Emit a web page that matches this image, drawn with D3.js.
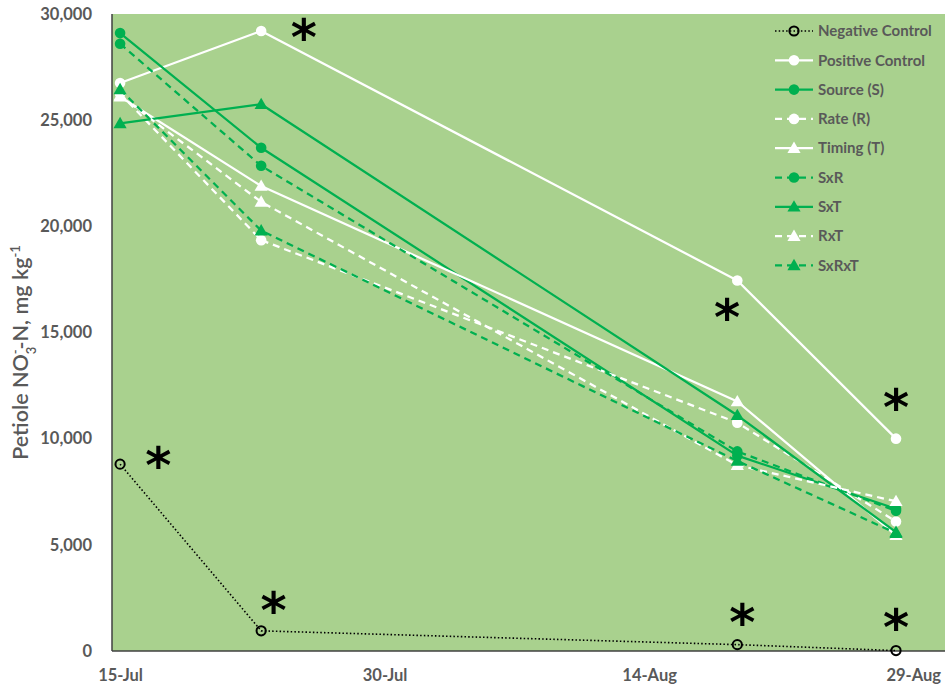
<!DOCTYPE html>
<html>
<head>
<meta charset="utf-8">
<script src="https://cdn.jsdelivr.net/npm/d3@7"></script>
<style>
  html, body { margin: 0; padding: 0; background: #ffffff; }
  svg { display: block; }
  text { font-family: Lato, "Open Sans", "Liberation Sans", sans-serif; }
</style>
</head>
<body>
<svg id="chart" width="945" height="691"></svg>
<script>
// Sampling dates
const sampleDates = ["2021-07-15", "2021-07-23", "2021-08-19", "2021-08-28"];

// Petiole NO3-N (mg/kg) per treatment at each sampling date
const negativeControl = [8800, 950, 300, 20];
const positiveControl = [26750, 29200, 17450, 10000];
const sourceS = [29100, 23700, 9200, 6700];
const rateR = [26250, 19350, 10750, 6100];
const timingT = [26100, 21900, 11750, 5450];
const sxr = [28600, 22850, 9400, 6600];
const sxt = [24850, 25750, 11100, 5600];
const rxt = [26150, 21150, 8750, 7050];
const sxrxt = [26450, 19800, 8950, 5550];

const seriesNames = ["Negative Control", "Positive Control", "Source (S)", "Rate (R)", "Timing (T)", "SxR", "SxT", "RxT", "SxRxT"];

// Axis ticks
const yTicks = [0, 5000, 10000, 15000, 20000, 25000, 30000];
const xTickDates = ["2021-07-15", "2021-07-30", "2021-08-14", "2021-08-29"];

// Significance markers (date, value)
const sigDates = ["2021-07-25T10:00", "2021-07-17T04:00", "2021-07-23T17:00", "2021-08-18T10:00", "2021-08-19T07:00", "2021-08-28T00:00", "2021-08-28T00:00"];
const sigValues = [29250, 9100, 2250, 16050, 1700, 11800, 1450];

const parseDay = d3.utcParse("%Y-%m-%d");
const parseHour = d3.utcParse("%Y-%m-%dT%H:%M");

const svg = d3.select("#chart");
const W = 945, H = 691;
const margin = { left: 112, top: 14, right: 0, bottom: 40 };
const plotW = W - margin.left - margin.right;
const plotH = H - margin.top - margin.bottom;

const GREEN = "#00b050";
const WHITE = "#ffffff";
const BG = "#a9d18e";
const TEXT = "#595959";

const x = d3.scaleUtc()
  .domain([parseHour("2021-07-14T13:00"), parseHour("2021-08-30T18:40")])
  .range([0, plotW]);
const y = d3.scaleLinear().domain([0, 30000]).range([plotH, 0]);

const g = svg.append("g").attr("transform", `translate(${margin.left},${margin.top})`);

// plot background
g.append("rect").attr("x", 0).attr("y", 0).attr("width", plotW).attr("height", plotH).attr("fill", BG);

// axes lines
g.append("line").attr("x1", 0).attr("x2", 0).attr("y1", 0).attr("y2", plotH)
  .attr("stroke", "#404040").attr("stroke-width", 1.5);
g.append("line").attr("x1", 0).attr("x2", plotW).attr("y1", plotH).attr("y2", plotH)
  .attr("stroke", "#404040").attr("stroke-width", 1.5);

// y axis tick labels
const yAxis = d3.axisLeft(y).tickValues(yTicks).tickFormat(d3.format(",")).tickSize(0).tickPadding(20);
const yg = g.append("g").call(yAxis);
yg.select(".domain").remove();
yg.selectAll("text").attr("fill", TEXT).attr("font-size", 16.5).attr("font-weight", 700)
  .style("font-family", "Lato, sans-serif");

// x axis tick labels
const xAxis = d3.axisBottom(x).tickValues(xTickDates.map(parseDay)).tickFormat(d3.utcFormat("%-d-%b")).tickSize(0).tickPadding(18);
const xg = g.append("g").attr("transform", `translate(0,${plotH})`).call(xAxis);
xg.select(".domain").remove();
xg.selectAll("text").attr("fill", TEXT).attr("font-size", 16.5).attr("font-weight", 700)
  .style("font-family", "Lato, sans-serif");
// keep the last label inside the drawing
xg.selectAll(".tick").each(function () {
  const t = d3.select(this);
  const tr = t.attr("transform");
  const tx = +tr.match(/translate\(([-\d.]+)/)[1];
  const txt = t.select("text");
  const w = txt.node().getComputedTextLength();
  const maxX = plotW - 4;
  if (tx + w / 2 > maxX) txt.attr("dx", maxX - (tx + w / 2));
});

// y axis title
const title = svg.append("text")
  .attr("transform", `translate(28,${margin.top + plotH / 2 + 20}) rotate(-90)`)
  .attr("text-anchor", "middle")
  .attr("fill", TEXT).attr("font-size", 21.5).attr("font-weight", 600);
title.append("tspan").text("Petiole NO");
title.append("tspan").attr("baseline-shift", "sub").attr("font-size", 13).text("3");
title.append("tspan").attr("baseline-shift", "super").attr("font-size", 13).attr("dx", -7.5).text("-");
title.append("tspan").text("-N, mg kg");
title.append("tspan").attr("baseline-shift", "super").attr("font-size", 13).text("-1");

// series styles
const seriesData = [negativeControl, positiveControl, sourceS, rateR, timingT, sxr, sxt, rxt, sxrxt];
const styles = [
  { color: "#000000", dash: "1.5,2.2", width: 1.6, marker: "open" },
  { color: WHITE, dash: null, width: 2.25, marker: "circle" },
  { color: GREEN, dash: null, width: 2.25, marker: "circle" },
  { color: WHITE, dash: "7,5", width: 2.25, marker: "circle" },
  { color: WHITE, dash: null, width: 2.25, marker: "triangle" },
  { color: GREEN, dash: "7,5", width: 2.25, marker: "circle" },
  { color: GREEN, dash: null, width: 2.25, marker: "triangle" },
  { color: WHITE, dash: "7,5", width: 2.25, marker: "triangle" },
  { color: GREEN, dash: "7,5", width: 2.25, marker: "triangle" }
];

const dates = sampleDates.map(parseDay);
const line = d3.line().x(d => x(d.date)).y(d => y(d.value));

function drawMarker(sel, st, cx, cy) {
  if (st.marker === "open") {
    sel.append("circle").attr("cx", cx).attr("cy", cy).attr("r", 4.6)
      .attr("fill", "none").attr("stroke", "#000").attr("stroke-width", 2);
  } else if (st.marker === "circle") {
    sel.append("circle").attr("cx", cx).attr("cy", cy).attr("r", 5.3).attr("fill", st.color);
  } else {
    const sym = d3.symbol().type(d3.symbolTriangle).size(75);
    sel.append("path").attr("d", sym()).attr("transform", `translate(${cx},${cy + 1})`).attr("fill", st.color);
  }
}

seriesData.forEach((vals, i) => {
  const st = styles[i];
  const pts = vals.map((v, j) => ({ date: dates[j], value: v }));
  const sg = g.append("g");
  sg.append("path").datum(pts).attr("d", line).attr("fill", "none")
    .attr("stroke", st.color).attr("stroke-width", st.width)
    .attr("stroke-dasharray", st.dash).attr("stroke-linejoin", "round");
  pts.forEach(p => drawMarker(sg, st, x(p.date), y(p.value)));
});

// significance asterisks
sigDates.forEach((d, i) => {
  g.append("text").attr("x", x(parseHour(d))).attr("y", y(sigValues[i]) + 25)
    .attr("text-anchor", "middle").attr("font-size", 50).attr("font-weight", 700)
    .style("font-family", "'DejaVu Sans', sans-serif")
    .attr("fill", "#000").text("*");
});

// legend
const legend = svg.append("g");
seriesNames.forEach((name, i) => {
  const st = styles[i];
  const ly = 31 + i * 29.3;
  const lg = legend.append("g");
  lg.append("line").attr("x1", 775).attr("x2", 813).attr("y1", ly).attr("y2", ly)
    .attr("stroke", st.color).attr("stroke-width", st.width).attr("stroke-dasharray", st.dash);
  drawMarker(lg, st, 794, ly);
  lg.append("text").attr("x", 818).attr("y", ly).attr("dy", "0.35em")
    .attr("fill", TEXT).attr("font-size", 15).attr("font-weight", 700).text(name);
});
</script>
</body>
</html>
